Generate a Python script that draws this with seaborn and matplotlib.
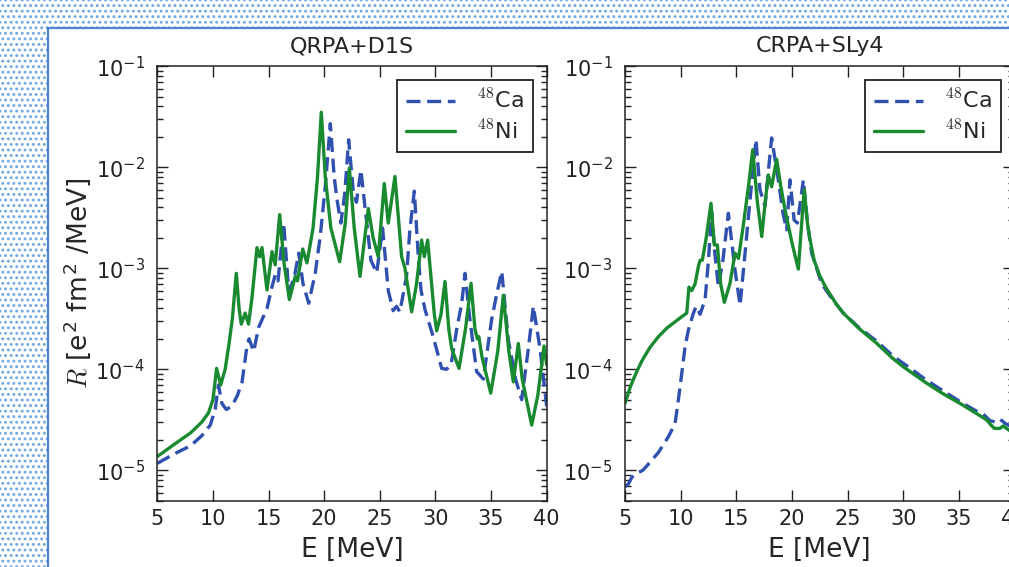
import math
import matplotlib
matplotlib.use("Agg")
from matplotlib import pyplot as plt
from matplotlib.patches import Rectangle
from matplotlib.ticker import FixedLocator, FuncFormatter, LogLocator, NullFormatter
import seaborn as sns

# QRPA+D1S --------------------------------------------------------------
qrpa_ni_e = [5.0, 6.5, 8.0, 9.0, 9.6, 10.0, 10.33, 10.7, 11.1, 11.45, 11.75, 12.1,
             12.35, 12.55, 12.9, 13.2, 13.5, 13.96, 14.2, 14.41, 14.86, 15.31, 15.6,
             16.0, 16.4, 16.87, 17.4, 17.6, 18.07, 18.45, 19.0, 19.4, 19.74, 20.1,
             20.6, 21.39, 21.9, 22.26, 22.7, 23.22, 23.97, 24.4, 24.86, 25.4, 25.76,
             26.36, 26.96, 27.26, 27.86, 28.3, 28.76, 29.0, 29.3, 29.9, 30.11, 30.5,
             30.86, 31.2, 31.46, 32.12, 32.7, 33.2, 33.55, 33.76, 33.9, 34.2, 34.97,
             35.6, 36.1, 36.6, 37.0, 37.45, 37.8, 38.65, 39.2, 39.76, 40.0]
qrpa_ni_r = [1.37e-5, 1.8e-5, 2.35e-5, 3.0e-5, 3.7e-5, 5.0e-5, 1.02e-4, 7.0e-5, 1.0e-4,
             1.8e-4, 3.2e-4, 8.9e-4, 4.0e-4, 2.8e-4, 3.6e-4, 2.8e-4, 5.0e-4, 1.6e-3,
             1.3e-3, 1.6e-3, 6.1e-4, 1.46e-3, 1.08e-3, 3.4e-3, 1.1e-3, 4.9e-4, 8.3e-4,
             7.5e-4, 1.55e-3, 1.13e-3, 2.5e-3, 8.0e-3, 3.5e-2, 8.0e-3, 2.5e-3, 1.16e-3,
             2.8e-3, 9.8e-3, 2.5e-3, 8.3e-4, 3.9e-3, 2.0e-3, 1.3e-3, 6.9e-3, 2.8e-3,
             8.1e-3, 1.3e-3, 1.0e-3, 3.7e-4, 7.0e-4, 1.9e-3, 1.3e-3, 1.9e-3, 3.5e-4,
             2.4e-4, 3.5e-4, 7.4e-4, 2.5e-4, 1.6e-4, 1.02e-4, 2.5e-4, 7.1e-4, 2.5e-4,
             2.0e-4, 2.1e-4, 1.3e-4, 5.8e-5, 1.5e-4, 5.4e-4, 1.5e-4, 7.5e-5, 1.8e-4,
             8.0e-5, 2.8e-5, 5.5e-5, 1.7e-4, 1.1e-4]

qrpa_ca_e = [5.0, 6.5, 8.0, 9.0, 9.76, 10.2, 10.5, 10.8, 11.2, 11.7, 12.2, 12.62, 13.06,
             13.25, 13.66, 14.11, 14.86, 15.3, 15.6, 15.85, 16.36, 16.81, 17.3, 17.71,
             18.1, 18.61, 19.2, 19.65, 20.1, 20.55, 20.9, 21.15, 21.5, 21.85, 22.2,
             22.6, 22.9, 23.3, 23.66, 24.2, 24.72, 25.25, 25.76, 26.2, 26.5, 26.8, 27.4,
             27.7, 28.1, 28.46, 28.7, 29.06, 29.8, 30.56, 31.0, 31.4, 31.9, 32.36, 32.66,
             33.1, 33.7, 34.3, 35.05, 35.5, 35.96, 36.55, 37.2, 37.75, 38.35, 38.8,
             39.4, 40.0]
qrpa_ca_r = [1.17e-5, 1.45e-5, 1.75e-5, 2.2e-5, 2.8e-5, 4.0e-5, 7.0e-5, 4.6e-5, 4.0e-5,
             4.3e-5, 5.5e-5, 7.5e-5, 1.7e-4, 2.0e-4, 1.5e-4, 2.6e-4, 4.0e-4, 6.5e-4,
             8.6e-4, 7.5e-4, 2.8e-3, 5.9e-4, 8.0e-4, 1.41e-3, 7.0e-4, 4.5e-4, 9.0e-4,
             2.1e-3, 6.5e-3, 2.7e-2, 8.0e-3, 4.8e-3, 2.8e-3, 5.5e-3, 1.87e-2, 6.0e-3,
             4.5e-3, 9.4e-3, 4.1e-3, 1.2e-3, 9.0e-4, 2.5e-3, 6.0e-4, 3.8e-4, 4.2e-4,
             3.7e-4, 8.3e-4, 2.4e-3, 5.8e-3, 1.3e-3, 6.1e-4, 3.9e-4, 2.1e-4, 1.02e-4,
             1.0e-4, 1.1e-4, 2.45e-4, 4.5e-4, 8.9e-4, 3.1e-4, 9.5e-5, 8.0e-5, 3.1e-4,
             5.5e-4, 9.3e-4, 1.95e-4, 8.0e-5, 5.0e-5, 1.6e-4, 4.2e-4, 1.6e-4, 4.3e-5]

# CRPA+SLy4 -------------------------------------------------------------
crpa_ni_e = [5.0, 5.5, 6.0, 6.5, 7.25, 8.0, 8.75, 9.5, 10.0, 10.55, 10.75, 11.0, 11.3,
             11.6, 11.75, 11.95, 12.3, 12.73, 13.03, 13.3, 13.6, 13.93, 14.44, 14.89,
             15.2, 15.6, 16.1, 16.48, 16.9, 17.29, 17.6, 17.88, 18.18, 18.63, 19.0,
             19.38, 20.0, 20.58, 20.85, 21.11, 21.4, 21.6, 22.0, 22.5, 23.0, 24.0,
             24.62, 26.0, 27.62, 29.0, 30.0, 32.1, 33.5, 35.1, 36.5, 37.5, 37.9, 38.2,
             38.7, 39.0, 39.5, 40.0]
crpa_ni_r = [4.6e-5, 6.8e-5, 9.2e-5, 1.2e-4, 1.65e-4, 2.1e-4, 2.55e-4, 2.95e-4, 3.25e-4,
             3.6e-4, 6.5e-4, 6.0e-4, 7.0e-4, 1.05e-3, 1.2e-3, 1.2e-3, 2.0e-3, 4.4e-3,
             1.7e-3, 1.7e-3, 7.0e-4, 4.6e-4, 7.1e-4, 1.41e-3, 1.25e-3, 2.5e-3, 6.5e-3,
             1.49e-2, 4.5e-3, 2.06e-3, 4.5e-3, 8.4e-3, 6.4e-3, 1.2e-2, 6.5e-3, 3.8e-3,
             1.8e-3, 9.8e-4, 2.5e-3, 6.0e-3, 2.8e-3, 2.0e-3, 1.2e-3, 8.5e-4, 6.6e-4,
             4.4e-4, 3.6e-4, 2.55e-4, 1.81e-4, 1.3e-4, 1.06e-4, 7.3e-5, 5.8e-5, 4.6e-5,
             3.7e-5, 3.16e-5, 2.8e-5, 2.6e-5, 2.6e-5, 2.75e-5, 2.5e-5, 2.3e-5]

crpa_ca_e = [5.0, 5.3, 5.6, 6.05, 6.6, 7.1, 8.0, 8.9, 9.5, 9.8, 10.1, 10.4, 10.7, 11.15,
             11.4, 11.75, 12.2, 12.5, 12.79, 13.05, 13.39, 13.8, 14.29, 14.89, 15.34,
             15.79, 16.24, 16.77, 17.13, 17.58, 18.18, 18.78, 19.2, 19.53, 19.83, 20.2,
             20.5, 21.03, 21.4, 21.78, 22.68, 23.5, 24.62, 26.0, 27.62, 29.1, 30.5, 32.1,
             33.5, 35.1, 36.5, 37.2, 37.8, 38.3, 38.7, 39.2, 40.0]
crpa_ca_r = [6.9e-6, 7.3e-6, 8.5e-6, 9.3e-6, 1.0e-5, 1.15e-5, 1.5e-5, 2.15e-5, 2.9e-5,
             5.0e-5, 9.1e-5, 1.68e-4, 2.45e-4, 3.6e-4, 4.2e-4, 3.5e-4, 4.9e-4, 1.2e-3,
             3.6e-3, 1.5e-3, 6.6e-4, 1.2e-3, 3.5e-3, 9.6e-4, 4.3e-4, 1.41e-3, 4.8e-3,
             1.87e-2, 6.0e-3, 4.1e-3, 1.95e-2, 7.5e-3, 3.5e-3, 2.4e-3, 7.5e-3, 3.0e-3,
             2.8e-3, 7.5e-3, 2.8e-3, 1.41e-3, 7.0e-4, 5.2e-4, 3.6e-4, 2.6e-4, 1.9e-4,
             1.35e-4, 1.05e-4, 7.8e-5, 6.2e-5, 4.8e-5, 3.9e-5, 3.6e-5, 3.1e-5, 3.0e-5,
             3.2e-5, 2.9e-5, 2.6e-5]

titles = ["QRPA+D1S", "CRPA+SLy4"]
x_ticks = [5, 10, 15, 20, 25, 30, 35, 40]
y_ticks = [1e-5, 1e-4, 1e-3, 1e-2, 1e-1]

ca_color = "#3050b0"
ni_color = "#1a8a30"

sns.set_style("ticks")
plt.rcParams["mathtext.fontset"] = "cm"
plt.rcParams["font.family"] = ["DejaVu Sans"]
plt.rcParams["hatch.linewidth"] = 1.3

fig = plt.figure(figsize=(10.09, 5.67), dpi=100)

# dotted page background + white panel
bg = Rectangle((0, 0), 1, 1, transform=fig.transFigure, facecolor="white",
               edgecolor="#6fa6e2", hatch="...", linewidth=0, zorder=-10)
fig.patches.append(bg)
panel = Rectangle((48 / 1009, -0.2), 1.2, 1.2 - 28 / 567, transform=fig.transFigure,
                  facecolor="white", edgecolor="#4f83d1", linewidth=1.6, zorder=-9)
fig.patches.append(panel)

ax1 = fig.add_axes([157.3 / 1009, 1 - 500.7 / 567, 389.4 / 1009, 434.5 / 567])
ax2 = fig.add_axes([625 / 1009, 1 - 500.7 / 567, 389.4 / 1009, 434.5 / 567])

series = [(ax1, qrpa_ca_e, qrpa_ca_r, qrpa_ni_e, qrpa_ni_r),
          (ax2, crpa_ca_e, crpa_ca_r, crpa_ni_e, crpa_ni_r)]

for (ax, ca_e, ca_r, ni_e, ni_r), title in zip(series, titles):
    sns.lineplot(x=ca_e, y=ca_r, ax=ax, color=ca_color, lw=2.4,
                 dashes=False, label=r"$^{48}$Ca").lines[-1].set_dashes((4.2, 2.0))
    sns.lineplot(x=ni_e, y=ni_r, ax=ax, color=ni_color, lw=2.4,
                 label=r"$^{48}$Ni")
    ax.set_yscale("log")
    ax.set_xlim(5, 40)
    ax.set_ylim(5e-6, 1e-1)
    ax.xaxis.set_major_locator(FixedLocator(x_ticks))
    ax.yaxis.set_major_locator(FixedLocator(y_ticks))
    ax.yaxis.set_minor_locator(LogLocator(base=10, subs=range(2, 10)))
    ax.yaxis.set_minor_formatter(NullFormatter())
    ax.yaxis.set_major_formatter(FuncFormatter(
        lambda v, p: r"$\mathregular{10^{%d}}$" % round(math.log10(v))))
    ax.tick_params(which="both", direction="in", top=True, right=True,
                   colors="#222222", width=1)
    ax.tick_params(which="major", length=8, labelsize=15)
    ax.tick_params(axis="y", which="major", pad=9)
    ax.tick_params(axis="x", which="major", pad=6)
    ax.tick_params(which="minor", length=4)
    for sp in ax.spines.values():
        sp.set_linewidth(1.1)
        sp.set_color("#222222")
    ax.set_title(title, fontsize=16, pad=10)
    ax.set_xlabel("E [MeV]", fontsize=19, labelpad=6)
    leg = ax.legend(loc="upper right", fontsize=16, fancybox=False, framealpha=1,
                    handlelength=2.2, handletextpad=1.0, borderpad=0.4,
                    labelspacing=0.3, borderaxespad=0.6)
    leg.get_frame().set_edgecolor("#222222")
    leg.get_frame().set_linewidth(1.3)

ax1.set_ylabel(r"$R$ [e$^{\mathregular{2}}$ fm$^{\mathregular{2}}$ /MeV]", fontsize=19,
               labelpad=2)

fig.savefig("out.png", dpi=100)
